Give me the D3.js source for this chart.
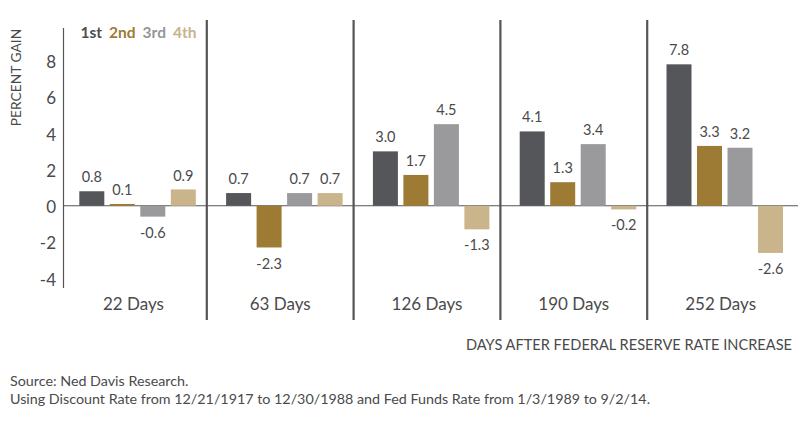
<!DOCTYPE html>
<html>
<head>
<meta charset="utf-8">
<script src="https://cdn.jsdelivr.net/npm/d3@7"></script>
<style>
  html, body { margin: 0; padding: 0; background: #fff; }
  svg { display: block; font-family: Lato, "Open Sans", sans-serif; }
</style>
</head>
<body>
<svg id="chart" width="801" height="422"></svg>
<script>
const categories = ["22 Days", "63 Days", "126 Days", "190 Days", "252 Days"];
const seriesNames = ["1st", "2nd", "3rd", "4th"];
const firstQ  = [0.8, 0.7, 3.0, 4.1, 7.8];
const secondQ = [0.1, -2.3, 1.7, 1.3, 3.3];
const thirdQ  = [-0.6, 0.7, 4.5, 3.4, 3.2];
const fourthQ = [0.9, 0.7, -1.3, -0.2, -2.6];
const yTicks = [-4, -2, 0, 2, 4, 6, 8];
const seriesColors = ["#55565a", "#9e7b34", "#9a999c", "#c9b48b"];
const legendColors = ["#4d4e52", "#9e7b34", "#96959a", "#c5b38e"];

const seriesValues = [firstQ, secondQ, thirdQ, fourthQ];
const textColor = "#4a4a4c";

const svg = d3.select("#chart");

const y = d3.scaleLinear().domain([-4, 8]).range([278.3, 60.7]);
const x = d3.scaleBand().domain(categories).range([60, 60 + 5 * 146.8]).padding(0);
const xInner = d3.scaleBand().domain(seriesNames).range([19.3, 19.3 + 116.5]).paddingInner(0.18).paddingOuter(0);

// left axis line
svg.append("line")
  .attr("x1", 63.5).attr("x2", 63.5)
  .attr("y1", 28).attr("y2", 288)
  .attr("stroke", "#555").attr("stroke-width", 1.2);

// y tick labels
svg.append("g").selectAll("text").data(yTicks).join("text")
  .attr("x", 56)
  .attr("y", d => y(d) + 1.5)
  .attr("dy", "0.35em")
  .attr("text-anchor", "end")
  .attr("font-size", 17)
  .attr("fill", textColor)
  .text(d => d);

// separators
svg.append("g").selectAll("line").data(categories.slice(1)).join("line")
  .attr("x1", d => x(d)).attr("x2", d => x(d))
  .attr("y1", 20).attr("y2", 320)
  .attr("stroke", "#555").attr("stroke-width", 2.2);

// zero line
svg.append("line")
  .attr("x1", 63.5).attr("x2", 798)
  .attr("y1", y(0)).attr("y2", y(0))
  .attr("stroke", "#555").attr("stroke-width", 1.1);

// bars
const rows = [];
categories.forEach((c, i) => {
  seriesNames.forEach((s, j) => {
    rows.push({ cat: c, series: s, idx: j, value: seriesValues[j][i] });
  });
});

const gBars = svg.append("g");
gBars.selectAll("rect").data(rows).join("rect")
  .attr("x", d => x(d.cat) + xInner(d.series))
  .attr("width", xInner.bandwidth())
  .attr("y", d => y(Math.max(0, d.value)))
  .attr("height", d => Math.abs(y(d.value) - y(0)))
  .attr("fill", d => seriesColors[d.idx]);

// value labels
gBars.selectAll("text").data(rows).join("text")
  .attr("x", d => x(d.cat) + xInner(d.series) + xInner.bandwidth() / 2)
  .attr("y", d => d.value >= 0 ? y(d.value) - 14 : y(d.value) + 16)
  .attr("dy", "0.35em")
  .attr("text-anchor", "middle")
  .attr("font-size", 14.5)
  .attr("fill", textColor)
  .text(d => d.value.toFixed(1));

// category labels
svg.append("g").selectAll("text").data(categories).join("text")
  .attr("x", d => x(d) + x.bandwidth() / 2)
  .attr("y", 304)
  .attr("dy", "0.35em")
  .attr("text-anchor", "middle")
  .attr("font-size", 17)
  .attr("fill", textColor)
  .text(d => d);

// legend
const legend = svg.append("text")
  .attr("x", 80.5).attr("y", 32.5).attr("dy", "0.35em")
  .attr("font-size", 15.5).attr("font-weight", "bold");
seriesNames.forEach((s, j) => {
  legend.append("tspan")
    .attr("dx", j === 0 ? 0 : 7)
    .attr("fill", legendColors[j])
    .text(s);
});

// y axis title
svg.append("text")
  .attr("transform", "translate(16,77.5) rotate(-90)")
  .attr("dy", "0.35em")
  .attr("text-anchor", "middle")
  .attr("font-size", 13.8)
  .attr("fill", textColor)
  .text("PERCENT GAIN");

// x axis title
svg.append("text")
  .attr("x", 792).attr("y", 345).attr("dy", "0.35em")
  .attr("text-anchor", "end")
  .attr("font-size", 14.6)
  .attr("fill", textColor)
  .text("DAYS AFTER FEDERAL RESERVE RATE INCREASE");

// footer
svg.append("text")
  .attr("x", 10).attr("y", 381).attr("dy", "0.35em")
  .attr("font-size", 14.3)
  .attr("fill", textColor)
  .text("Source: Ned Davis Research.");
svg.append("text")
  .attr("x", 10).attr("y", 399).attr("dy", "0.35em")
  .attr("font-size", 14.3)
  .attr("fill", textColor)
  .text("Using Discount Rate from 12/21/1917 to 12/30/1988 and Fed Funds Rate from 1/3/1989 to 9/2/14.");
</script>
</body>
</html>
